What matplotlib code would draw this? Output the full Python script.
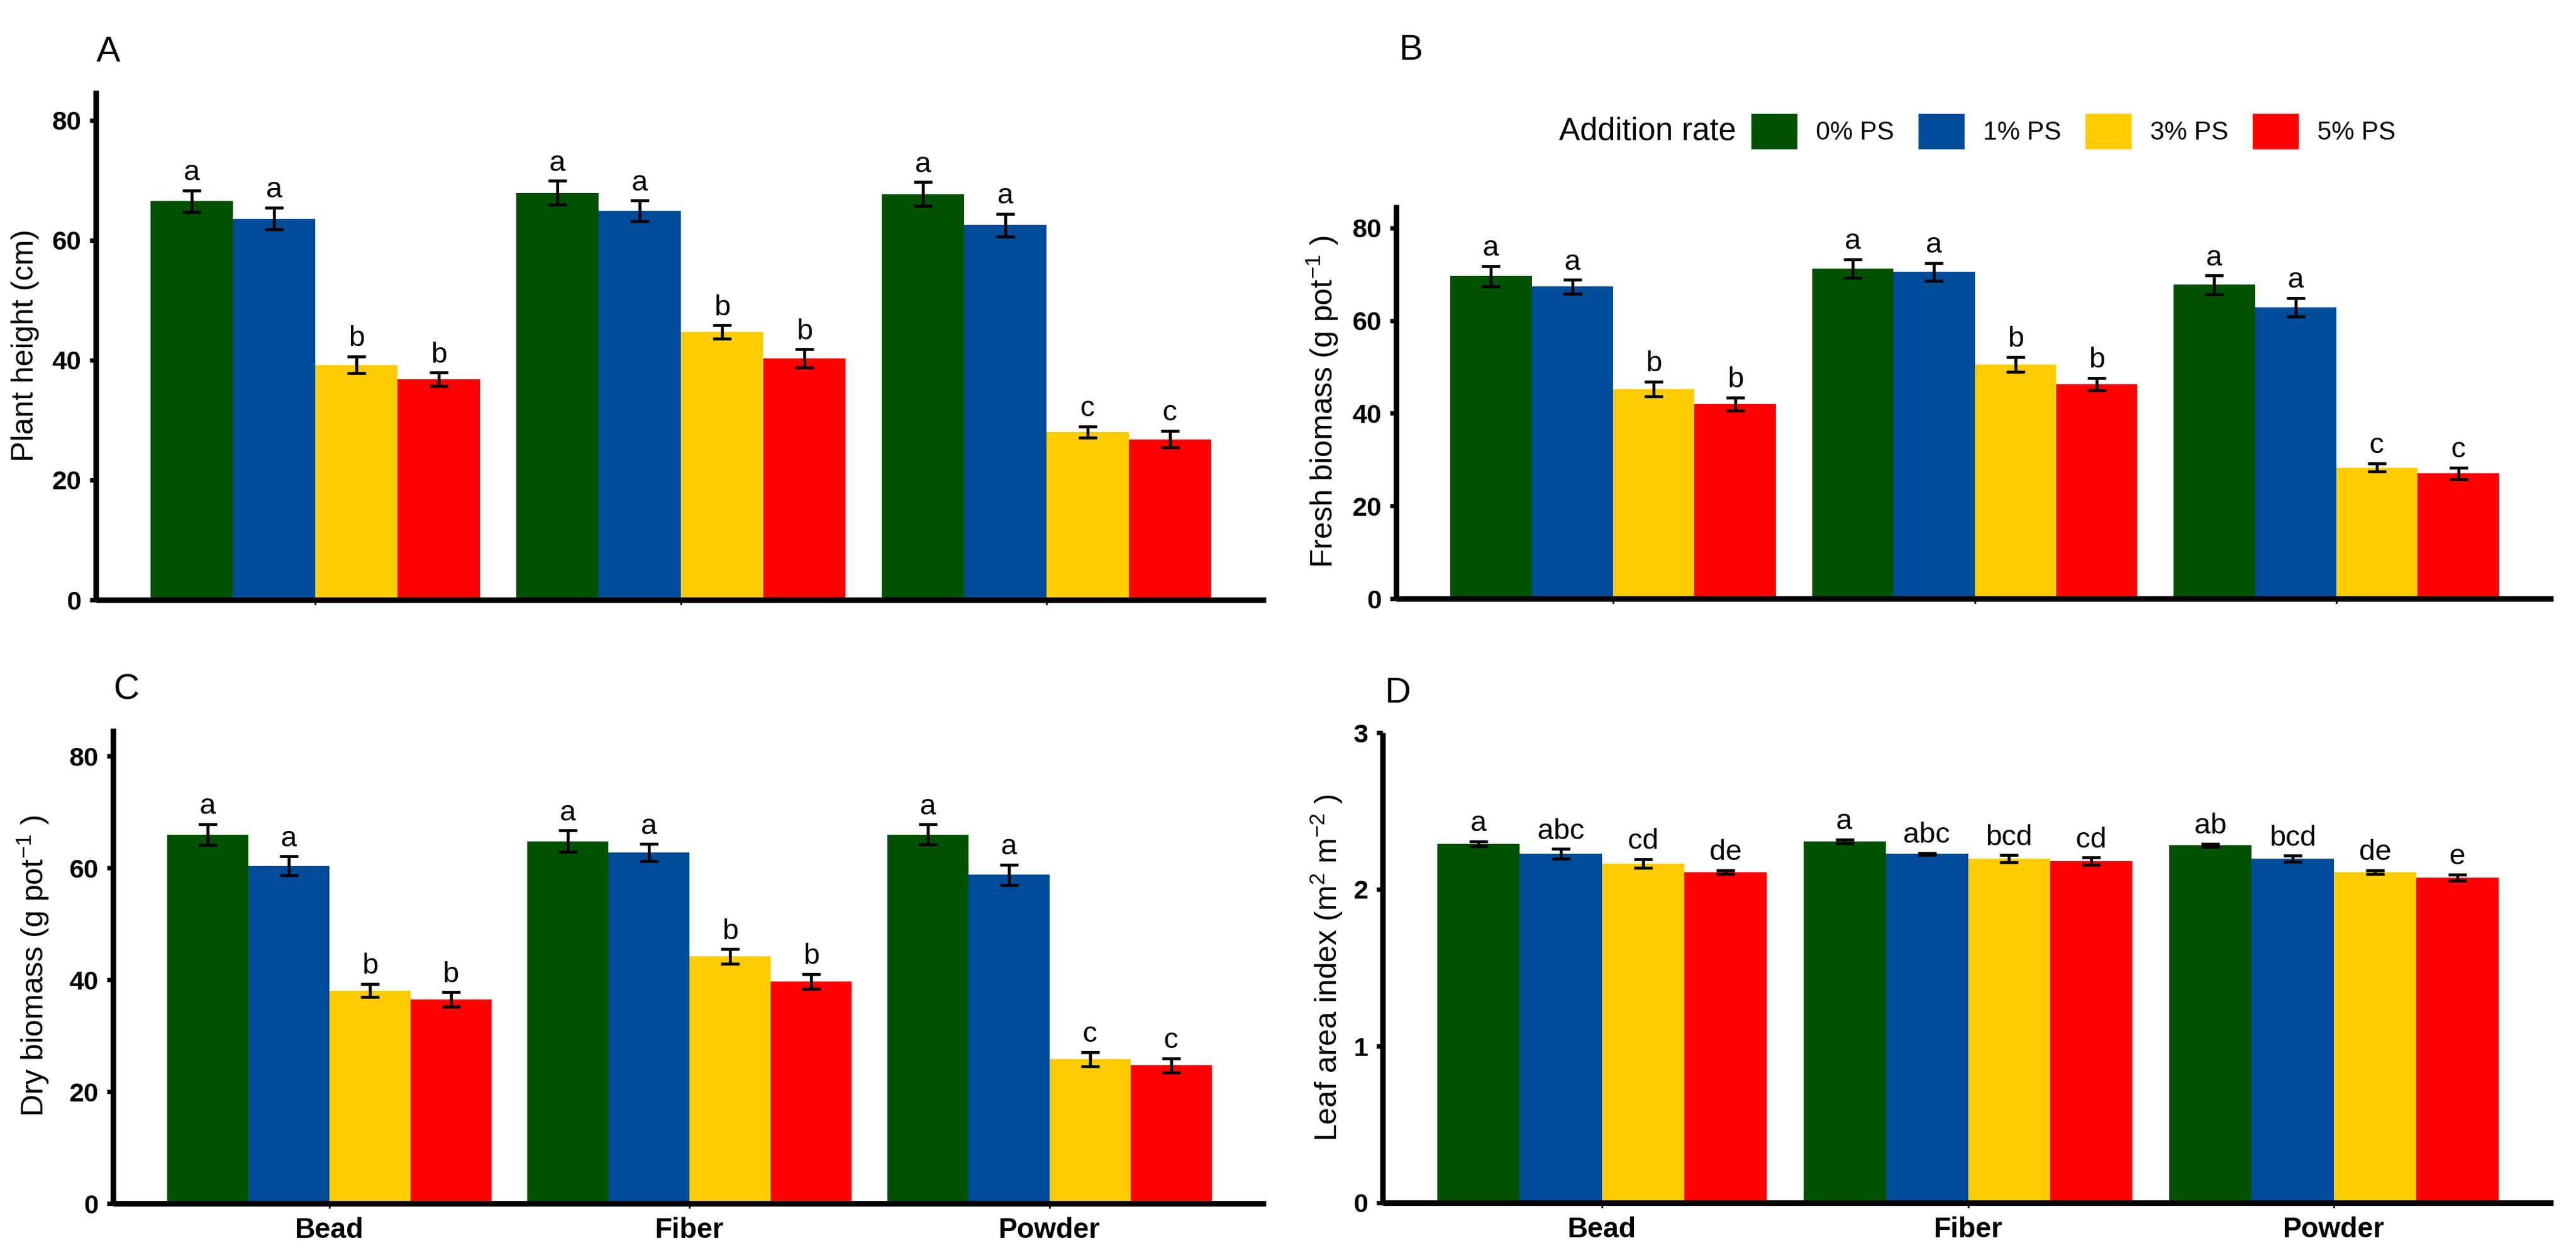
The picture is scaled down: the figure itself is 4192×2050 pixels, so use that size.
import numpy as np
import matplotlib
matplotlib.use('Agg')
import matplotlib.pyplot as plt
from matplotlib.patches import Patch

plt.rcParams['font.family'] = ['Liberation Sans', 'DejaVu Sans']
plt.rcParams['mathtext.fontset'] = 'custom'
plt.rcParams['mathtext.rm'] = 'Liberation Sans'
plt.rcParams['mathtext.it'] = 'Liberation Sans:italic'
plt.rcParams['mathtext.bf'] = 'Liberation Sans:bold'

# ---------------- data ----------------
materials = ['Bead', 'Fiber', 'Powder']
rates = ['0% PS', '1% PS', '3% PS', '5% PS']
colors = ['#005200', '#004C99', '#FFCC00', '#FF0000']

# Plant height (cm): one list per addition rate, across materials
height_0 = [66.5, 67.9, 67.7]
height_1 = [63.6, 64.9, 62.5]
height_3 = [39.2, 44.7, 28.0]
height_5 = [36.8, 40.3, 26.8]
height_err_0 = [1.8, 2.0, 2.0]
height_err_1 = [1.8, 1.7, 1.9]
height_err_3 = [1.4, 1.1, 0.9]
height_err_5 = [1.1, 1.5, 1.4]

# Fresh biomass (g pot-1)
fresh_0 = [69.6, 71.2, 67.7]
fresh_1 = [67.3, 70.5, 62.9]
fresh_3 = [45.2, 50.5, 28.3]
fresh_5 = [42.0, 46.3, 27.0]
fresh_err_0 = [2.2, 2.0, 2.0]
fresh_err_1 = [1.5, 1.9, 2.0]
fresh_err_3 = [1.6, 1.6, 0.9]
fresh_err_5 = [1.4, 1.3, 1.3]

# Dry biomass (g pot-1)
dry_0 = [66.0, 64.8, 66.0]
dry_1 = [60.4, 62.8, 58.8]
dry_3 = [38.1, 44.2, 25.8]
dry_5 = [36.5, 39.7, 24.7]
dry_err_0 = [1.9, 1.9, 1.8]
dry_err_1 = [1.7, 1.5, 1.8]
dry_err_3 = [1.2, 1.3, 1.3]
dry_err_5 = [1.3, 1.3, 1.3]

# Leaf area index (m2 m-2)
lai_0 = [2.290, 2.306, 2.282]
lai_1 = [2.227, 2.227, 2.196]
lai_3 = [2.165, 2.196, 2.110]
lai_5 = [2.110, 2.180, 2.074]
lai_err_0 = [0.016, 0.011, 0.010]
lai_err_1 = [0.030, 0.006, 0.019]
lai_err_3 = [0.027, 0.022, 0.012]
lai_err_5 = [0.012, 0.023, 0.021]

# significance letters
abc_letters_0 = ['a', 'a', 'a']
abc_letters_1 = ['a', 'a', 'a']
abc_letters_3 = ['b', 'b', 'c']
abc_letters_5 = ['b', 'b', 'c']
lai_letters_0 = ['a', 'a', 'ab']
lai_letters_1 = ['abc', 'abc', 'bcd']
lai_letters_3 = ['cd', 'bcd', 'de']
lai_letters_5 = ['de', 'cd', 'e']

yticks_mass = [0, 20, 40, 60, 80]
yticks_lai = [0, 1, 2, 3]

# ---------------- figure ----------------
W, H = 4192, 2050
DPI = 200
fig = plt.figure(figsize=(W / DPI, H / DPI), dpi=DPI)


def px_axes(left, right, bottom, top):
    return fig.add_axes([left / W, (H - bottom) / H, (right - left) / W, (bottom - top) / H])


axA = px_axes(156, 2060, 976, 147)
axB = px_axes(2272, 4155, 974, 333)
axC = px_axes(184, 2060, 1958, 1185)
axD = px_axes(2250, 4155, 1957, 1192)


def draw(ax, means, errs, letters, ylim, yticks, ylabel, label_x_px, show_xlabels):
    x = np.arange(len(materials))
    w = 0.225
    for i, (m, e, l, c) in enumerate(zip(means, errs, letters, colors)):
        xs = x + (i - 1.5) * w
        ax.bar(xs, m, width=w, color=c, linewidth=0, zorder=2)
        ax.errorbar(xs, m, yerr=e, fmt='none', ecolor='black', elinewidth=1.7,
                    capsize=5.5, capthick=1.7, zorder=3)
        for xi, mi, ei, li in zip(xs, m, e, l):
            ax.annotate(li, (xi, mi + ei), xytext=(0, 6), textcoords='offset points',
                        ha='center', va='baseline', fontsize=17, zorder=4)
    ax.set_xlim(-0.6, 2.6)
    ax.set_ylim(*ylim)
    for s in ['top', 'right']:
        ax.spines[s].set_visible(False)
    for s in ['left', 'bottom']:
        ax.spines[s].set_linewidth(3.3)
        ax.spines[s].set_capstyle('butt')
    ax.set_yticks(yticks, labels=[str(t) for t in yticks], fontsize=15.5, fontweight='bold')
    if show_xlabels:
        ax.set_xticks(x, labels=materials, fontsize=16.5, fontweight='bold')
    else:
        ax.set_xticks(x, labels=[])
    ax.tick_params(axis='y', direction='out', length=3.5, width=2.6, pad=5)
    ax.tick_params(axis='x', direction='out', length=3, width=1.0, pad=5)
    ax.set_ylabel(ylabel, fontsize=18)
    pos = ax.get_position()
    ax.yaxis.set_label_coords(label_x_px / W, pos.y0 + pos.height / 2, transform=fig.transFigure)
    ax.yaxis.label.set_va('baseline')


draw(axA, [height_0, height_1, height_3, height_5],
     [height_err_0, height_err_1, height_err_3, height_err_5],
     [abc_letters_0, abc_letters_1, abc_letters_3, abc_letters_5],
     (0, 85), yticks_mass, 'Plant height (cm)', 54, False)
draw(axB, [fresh_0, fresh_1, fresh_3, fresh_5],
     [fresh_err_0, fresh_err_1, fresh_err_3, fresh_err_5],
     [abc_letters_0, abc_letters_1, abc_letters_3, abc_letters_5],
     (0, 85), yticks_mass, r'Fresh biomass (g pot$^{-1}$ )', 2169, False)
draw(axC, [dry_0, dry_1, dry_3, dry_5],
     [dry_err_0, dry_err_1, dry_err_3, dry_err_5],
     [abc_letters_0, abc_letters_1, abc_letters_3, abc_letters_5],
     (0, 85), yticks_mass, r'Dry biomass (g pot$^{-1}$ )', 71, True)
draw(axD, [lai_0, lai_1, lai_3, lai_5],
     [lai_err_0, lai_err_1, lai_err_3, lai_err_5],
     [lai_letters_0, lai_letters_1, lai_letters_3, lai_letters_5],
     (0, 3), yticks_lai, r'Leaf area index (m$^{2}$ m$^{-2}$ )', 2176, True)

# panel letters
for lab, (px, py) in zip(['A', 'B', 'C', 'D'], [(176, 85), (2296, 82), (206, 1122), (2274, 1128)]):
    fig.text(px / W, (H - py) / H, lab, fontsize=21, ha='center', va='center')

# legend
handles = [Patch(facecolor=c, edgecolor='none', label=r) for c, r in zip(colors, rates)]
leg_y = (H - 214) / H
fig.legend(handles=handles, loc='center left', bbox_to_anchor=(2850 / W, leg_y),
           bbox_transform=fig.transFigure, ncol=4, frameon=False, fontsize=15,
           handlelength=1.8, handleheight=1.8, handletextpad=0.73, columnspacing=0.94,
           borderpad=0, borderaxespad=0)
fig.text(2825 / W, leg_y, 'Addition rate', fontsize=18.5, ha='right', va='center')

fig.savefig('out.png', dpi=DPI)
